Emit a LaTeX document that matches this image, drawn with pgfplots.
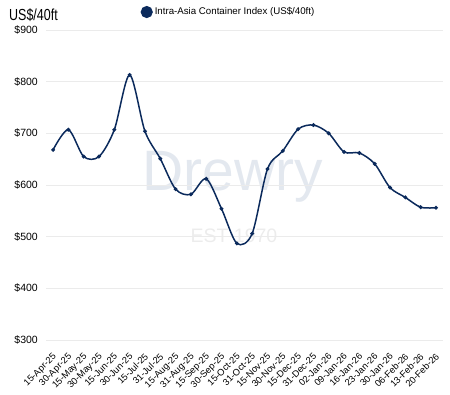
\documentclass[border=0pt]{standalone}
\usepackage{fontspec}
\setmainfont{Liberation Sans}
\usepackage{pgfplots}
\pgfplotsset{compat=1.18}
\definecolor{navy}{HTML}{0B2A5C}
\definecolor{gridc}{HTML}{EBEBEB}
\definecolor{wm}{HTML}{E3E8EF}
\definecolor{wm2}{HTML}{ECECEC}
\begin{document}
\begin{tikzpicture}[x=1pt,y=1pt]
\path[use as bounding box] (-46,-54) rectangle (404,340);
\node[text=wm, font=\fontsize{57}{57}\selectfont] at (187,163) {Drewry};
\node[text=wm2, font=\fontsize{19.5}{20}\selectfont] at (188,104) {EST 1970};
\begin{axis}[
  at={(0,0)}, anchor=south west,
  scale only axis, width=397pt, height=310pt,
  xmin=-0.46, xmax=25.46, ymin=300, ymax=900,
  ytick={300,400,...,900},
  yticklabel={\$\pgfmathprintnumber{\tick}},
  /pgf/number format/assume math mode=true,
  xtick={0,...,25},
  xticklabels={15-Apr-25,30-Apr-25,15-May-25,30-May-25,15-Jun-25,30-Jun-25,15-Jul-25,31-Jul-25,15-Aug-25,31-Aug-25,15-Sep-25,30-Sep-25,15-Oct-25,31-Oct-25,15-Nov-25,30-Nov-25,15-Dec-25,31-Dec-25,02-Jan-26,09-Jan-26,16-Jan-26,23-Jan-26,30-Jan-26,06-Feb-26,13-Feb-26,20-Feb-26},
  xticklabel style={xshift=-1pt, yshift=-11pt, rotate=45, anchor=north east, font=\fontsize{9.3}{10}\selectfont, inner sep=1pt},
  yticklabel style={font=\fontsize{10.5}{12}\selectfont, inner sep=2pt, xshift=-6pt},
  axis line style={draw=none},
  tick style={draw=none},
  ymajorgrids, grid style={gridc, line width=1pt},
  clip=false,
  legend style={draw=none, fill=none, at={(0.238,1.058)}, anchor=west, font=\fontsize{9.7}{11}\selectfont, inner sep=0pt},
  legend image code/.code={\fill[navy] (0pt,0pt) circle (5.3pt);},
]
\addplot[navy, line width=1.5pt, smooth, mark=*, mark size=1.1pt] coordinates {
(0,668) (1,707) (2,655) (3,655) (4,707) (5,813) (6,704) (7,651) (8,592) (9,582)
(10,612) (11,554) (12,487) (13,506) (14,631) (15,666) (16,708) (17,716) (18,700)
(19,664) (20,662) (21,641) (22,595) (23,576) (24,557) (25,556)};
\addlegendentry{Intra-Asia Container Index (US\$/40ft)}
\end{axis}
\node[anchor=west, inner sep=0pt] at (-37,325) {\scalebox{0.78}[1]{\fontsize{16}{16}\selectfont US\$/40ft}};
\end{tikzpicture}
\end{document}
